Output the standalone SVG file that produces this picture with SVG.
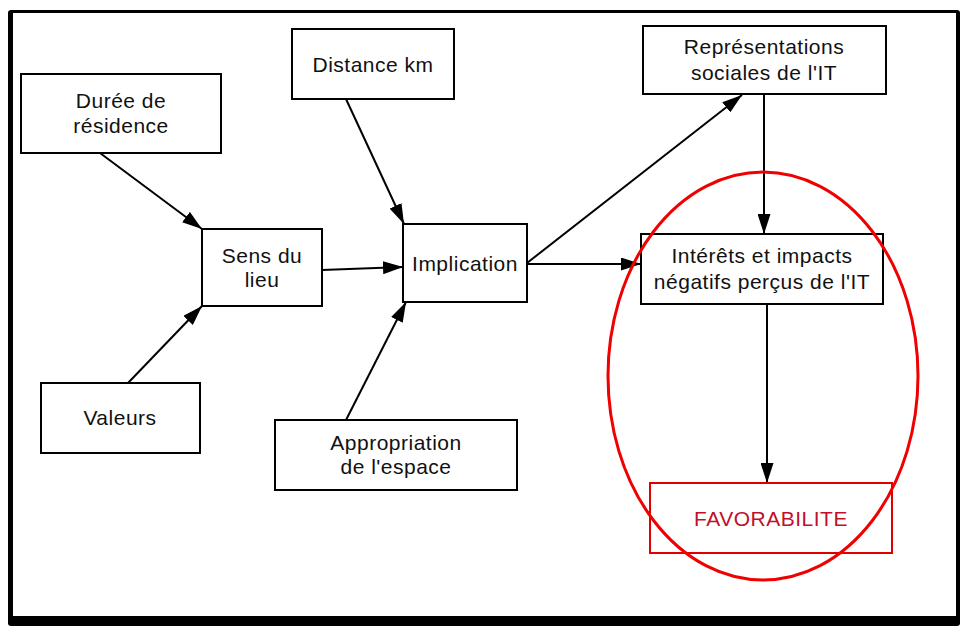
<svg xmlns="http://www.w3.org/2000/svg" width="960" height="626" viewBox="0 0 960 626">
<defs>
<marker id="arr" viewBox="0 0 20 13" refX="20" refY="6.5" markerWidth="20" markerHeight="13" markerUnits="userSpaceOnUse" orient="auto">
<path d="M0,0 L20,6.5 L0,13 Z" fill="#000"/>
</marker>
</defs>
<style>
.box{fill:#fff;stroke:#000;stroke-width:2}
.t{font-family:"Liberation Sans",Arial,sans-serif;font-size:21px;letter-spacing:0.5px;fill:#111;text-anchor:middle}
.c{stroke:#000;stroke-width:2;fill:none;marker-end:url(#arr)}
</style>
<rect x="8" y="10" width="952" height="616" rx="3" fill="#000"/>
<rect x="13" y="13" width="943" height="603" fill="#fff"/>
<g id="connectors">
<line class="c" x1="100" y1="153" x2="202" y2="229"/>
<line class="c" x1="128" y1="383" x2="202" y2="306"/>
<line class="c" x1="322" y1="270" x2="403" y2="267"/>
<line class="c" x1="346" y1="99" x2="404" y2="224"/>
<line class="c" x1="346" y1="420" x2="406" y2="302"/>
<line class="c" x1="527" y1="263" x2="742" y2="95"/>
<line class="c" x1="527" y1="264" x2="641" y2="264"/>
<line class="c" x1="764" y1="94" x2="764" y2="234"/>
<line class="c" x1="767" y1="304" x2="767" y2="483"/>
</g>
<g id="duree"><rect class="box" x="21" y="74" width="200" height="79"/><text class="t" x="121" y="108">Durée de</text><text class="t" x="121" y="133">résidence</text></g>
<g id="sens"><rect class="box" x="202" y="229" width="120" height="77"/><text class="t" x="262" y="263">Sens du</text><text class="t" x="262" y="287">lieu</text></g>
<g id="distance"><rect class="box" x="292" y="29" width="162" height="70"/><text class="t" x="373" y="72">Distance km</text></g>
<g id="valeurs"><rect class="box" x="41" y="383" width="159" height="70"/><text class="t" x="120" y="425">Valeurs</text></g>
<g id="appropriation"><rect class="box" x="275" y="420" width="242" height="70"/><text class="t" x="396" y="450">Appropriation</text><text class="t" x="396" y="474">de l'espace</text></g>
<g id="implication"><rect class="box" x="403" y="224" width="124" height="78"/><text class="t" x="465" y="271">Implication</text></g>
<g id="representations"><rect class="box" x="643" y="26" width="243" height="68"/><text class="t" x="764" y="54">Représentations</text><text class="t" x="764" y="80">sociales de l'IT</text></g>
<g id="interets"><rect class="box" x="641" y="234" width="242" height="70"/><text class="t" x="762" y="263">Intérêts et impacts</text><text class="t" x="762" y="289">négatifs perçus de l'IT</text></g>
<g id="favorabilite"><rect x="650" y="483" width="242" height="70" fill="#fff" stroke="#e00000" stroke-width="2"/><text class="t" x="771" y="526" style="fill:#c0102a">FAVORABILITE</text></g>
<ellipse id="highlight" cx="763" cy="376" rx="155" ry="204" fill="none" stroke="#f00000" stroke-width="3"/>
</svg>
